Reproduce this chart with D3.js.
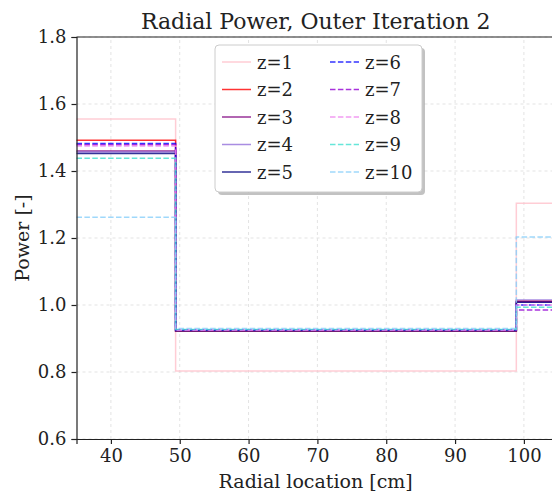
<!DOCTYPE html>
<html><head><meta charset="utf-8">
<script src="https://cdn.jsdelivr.net/npm/d3@7"></script>
<style>body{margin:0;background:#fff}svg{display:block}text{font-family:"DejaVu Serif",serif;fill:#222}</style>
</head><body><div id="c"></div>
<script>
const edges = [35, 49.4, 98.9, 104.5];
const seriesNames = ["z=1","z=2","z=3","z=4","z=5","z=6","z=7","z=8","z=9","z=10"];
const region1 = [1.555, 1.492, 1.460, 1.457, 1.452, 1.482, 1.478, 1.475, 1.438, 1.262];
const region2 = [0.803, 0.922, 0.923, 0.924, 0.923, 0.926, 0.925, 0.925, 0.927, 0.930];
const region3 = [1.304, 1.012, 1.010, 1.015, 1.008, 1.000, 0.985, 1.000, 0.993, 1.203];
const colors = ["#ffc0cb","#ff0000","#800080","#9370db","#000080","#0000ff","#9400d3","#ee82ee","#40e0d0","#87cefa"];
const dashed = [false,false,false,false,false,true,true,true,true,true];
const xTicks = [40,50,60,70,80,90,100];
const yTicks = [0.6,0.8,1.0,1.2,1.4,1.6,1.8];

const W=552,H=493;
const svg=d3.select("#c").append("svg").attr("width",W).attr("height",H);
const x=d3.scaleLinear().domain([35,104.5]).range([76.5,76.5+69.5*6.883]);
const y=d3.scaleLinear().domain([0.6,1.8]).range([439,37]);

// grid
const g=svg.append("g");
g.selectAll(".gx").data(xTicks).join("line").attr("x1",d=>x(d)).attr("x2",d=>x(d)).attr("y1",y(0.6)).attr("y2",y(1.8))
 .attr("stroke","#e3e3e3").attr("stroke-width",1).attr("stroke-dasharray","3,3");
g.selectAll(".gy").data(yTicks).join("line").attr("x1",x(35)).attr("x2",W+5).attr("y1",d=>y(d)).attr("y2",d=>y(d))
 .attr("stroke","#e3e3e3").attr("stroke-width",1).attr("stroke-dasharray","3,3");

// lines
const line=d3.line().x(d=>x(d[0])).y(d=>y(d[1])).curve(d3.curveStepAfter);
seriesNames.forEach((n,i)=>{
  const pts=[[edges[0],region1[i]],[edges[1],region2[i]],[edges[2],region3[i]],[edges[3],region3[i]]];
  svg.append("path").datum(pts).attr("d",line).attr("fill","none").attr("stroke",colors[i])
    .attr("stroke-width",1.5).attr("stroke-opacity",0.8).attr("stroke-dasharray",dashed[i]?"5.5,2.4":null);
});

// axes
const xa=svg.append("g").attr("transform",`translate(0,${y(0.6)})`).call(d3.axisBottom(x).tickValues(xTicks).tickSize(5).tickPadding(5).tickFormat(d3.format("d")));
const ya=svg.append("g").attr("transform",`translate(${x(35)},0)`).call(d3.axisLeft(y).tickValues(yTicks).tickSize(5).tickPadding(5).tickFormat(d3.format(".1f")));
[xa,ya].forEach(a=>{a.select(".domain").attr("stroke","#222").attr("stroke-width",1.2);a.selectAll(".tick line").attr("stroke","#222").attr("stroke-width",1.2);
 a.selectAll("text").style("font-family","DejaVu Serif").style("font-size","18px").attr("fill","#222");});
svg.append("line").attr("x1",x(35)).attr("x2",W+5).attr("y1",y(1.8)).attr("y2",y(1.8)).attr("stroke","#222").attr("stroke-width",1.2);

// labels
const cx=(x(35)+x(104.5))/2;
svg.append("text").attr("x",cx).attr("y",29).attr("text-anchor","middle").style("font-size","22px").text("Radial Power, Outer Iteration 2");
svg.append("text").attr("x",cx).attr("y",488).attr("text-anchor","middle").style("font-size","19px").text("Radial location [cm]");
svg.append("text").attr("transform",`translate(29,${(y(0.6)+y(1.8))/2}) rotate(-90)`).attr("text-anchor","middle").style("font-size","19px").text("Power [-]");

// legend
const lx=215, ly=45, lw=207, lh=147;
svg.append("rect").attr("x",lx+3).attr("y",ly+3).attr("width",lw).attr("height",lh).attr("rx",4).attr("fill","#999").attr("opacity",0.6);
svg.append("rect").attr("x",lx).attr("y",ly).attr("width",lw).attr("height",lh).attr("rx",4).attr("fill","#fff").attr("stroke","#ccc");
seriesNames.forEach((n,i)=>{
  const col=Math.floor(i/5), row=i%5;
  const x0=lx+7+col*108, yy=ly+17+row*27.5;
  svg.append("line").attr("x1",x0).attr("x2",x0+29).attr("y1",yy).attr("y2",yy).attr("stroke",colors[i]).attr("stroke-width",1.5)
   .attr("stroke-opacity",0.8).attr("stroke-dasharray",dashed[i]?"5.5,2.4":null);
  svg.append("text").attr("x",x0+35).attr("y",yy+6.5).style("font-size","18px").text(n);
});
</script></body></html>
